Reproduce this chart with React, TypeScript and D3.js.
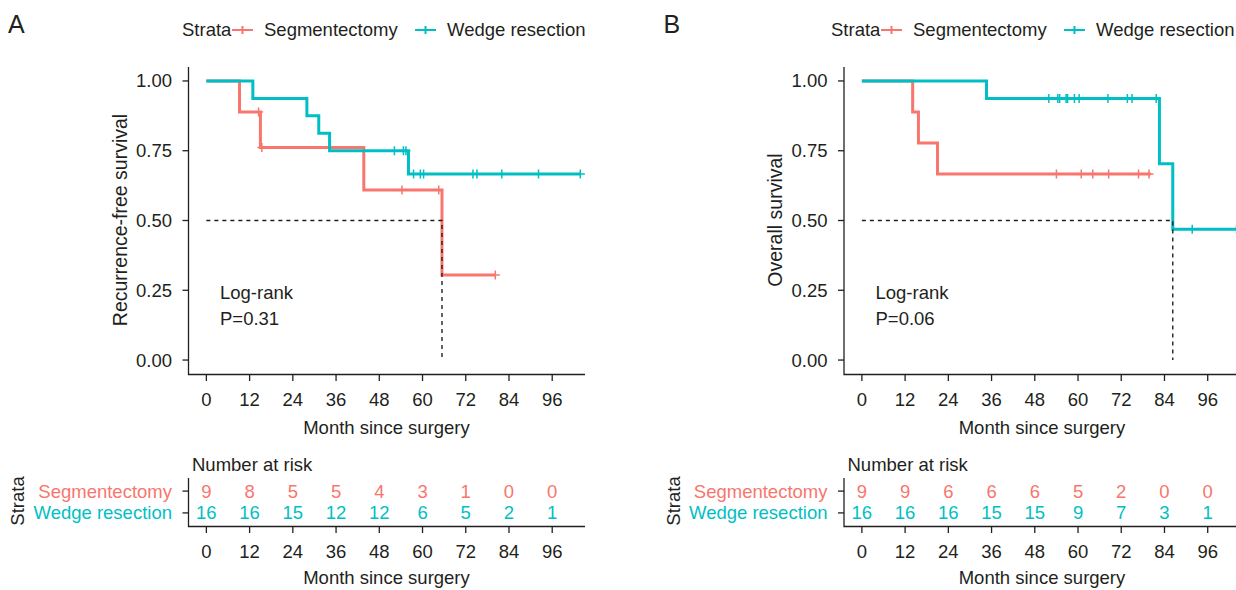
import * as d3 from "d3";

const RED = "#F8766D";
const TEAL = "#00BFC4";
const INK = "#231F20";
const FONT = "'Liberation Sans', Arial, Helvetica, sans-serif";

const strata = ["Segmentectomy", "Wedge resection"];
const monthTicks = [0, 12, 24, 36, 48, 60, 72, 84, 96];
const survTicks = [0, 0.25, 0.5, 0.75, 1];

// Panel A: recurrence-free survival. [month, survival] at each drop
const rfsSegSteps = [[0, 1], [9.2, 0.889], [15, 0.762], [43.7, 0.609], [65.4, 0.305]];
const rfsSegEnd = 80.2;
const rfsSegCensor = [14.5, 15.4, 54.3, 64.5, 80.2];
const rfsWedgeSteps = [[0, 1], [12.9, 0.9375], [27.9, 0.875], [31.2, 0.8125], [34.2, 0.75], [56.1, 0.667]];
const rfsWedgeEnd = 103.8;
const rfsWedgeCensor = [52.2, 54.7, 55.4, 57.5, 59.4, 60.3, 74, 75.1, 82, 92.2, 103.8];
const rfsMedian = 65.4;
const rfsRiskSeg = [9, 8, 5, 5, 4, 3, 1, 0, 0];
const rfsRiskWedge = [16, 16, 15, 12, 12, 6, 5, 2, 1];

// Panel B: overall survival
const osSegSteps = [[0, 1], [14.1, 0.889], [15.7, 0.778], [21, 0.667]];
const osSegEnd = 80.2;
const osSegCensor = [54, 60.9, 64.1, 68.5, 76.8, 79.7];
const osWedgeSteps = [[0, 1], [34.6, 0.9375], [82.6, 0.703], [86.3, 0.469]];
const osWedgeEnd = 104;
const osWedgeCensor = [51.9, 54.4, 54.9, 56.7, 57.1, 59, 60.3, 68.3, 73.7, 75, 81.7, 91.7, 104];
const osMedian = 86.3;
const osRiskSeg = [9, 9, 6, 6, 6, 5, 2, 0, 0];
const osRiskWedge = [16, 16, 16, 15, 15, 9, 7, 3, 1];

type Curve = { name: string; color: string; steps: number[][]; end: number; censor: number[] };

const FS = 18.5;

function survAt(steps: number[][], t: number) {
  const i = d3.bisector((d: number[]) => d[0]).right(steps, t) - 1;
  return steps[Math.max(0, i)][1];
}

function KMPanel({
  dx, tag, yTitle, pText, curves, median, risk, legendX,
}: {
  dx: number; tag: string; yTitle: string; pText: string; curves: Curve[];
  median: number; risk: number[][]; legendX: number;
}) {
  const x = d3.scaleLinear().domain([-5.1, 105.1]).range([188 + dx, 585 + dx]);
  const y = d3.scaleLinear().domain([-0.05, 1.05]).range([374, 67]);
  const rowY = d3.scalePoint<string>().domain(strata).range([478, 526]).padding(0.6);
  const line = d3
    .line<number[]>()
    .x((d) => x(d[0]))
    .y((d) => y(d[1]))
    .curve(d3.curveStepAfter);
  const axX = 188.5 + dx;

  return (
    <g fontFamily={FONT} fill={INK}>
      <text x={8 + dx} y={33} fontSize={25}>{tag}</text>

      {/* legend */}
      <g fontSize={FS}>
        <text x={legendX} y={30} dy="0.35em">Strata</text>
        {curves.map((c, i) => {
          const kx = legendX + (i === 0 ? 50 : 233);
          return (
            <g key={c.name}>
              <path d={`M${kx},30h21M${kx + 10.5},26v8`} stroke={c.color} strokeWidth={2} fill="none" />
              <text x={kx + 32} y={30} dy="0.35em">{c.name}</text>
            </g>
          );
        })}
      </g>

      {/* axes */}
      <path d={`M${axX},67V374.5H${585 + dx}`} stroke={INK} strokeWidth={1.3} fill="none" />
      {survTicks.map((t) => (
        <g key={t}>
          <line x1={axX - 6} x2={axX} y1={y(t)} y2={y(t)} stroke={INK} strokeWidth={1.3} />
          <text x={172 + dx} y={y(t)} dy="0.35em" textAnchor="end" fontSize={FS}>{t.toFixed(2)}</text>
        </g>
      ))}
      {monthTicks.map((t) => (
        <g key={t}>
          <line x1={x(t)} x2={x(t)} y1={374.5} y2={381} stroke={INK} strokeWidth={1.3} />
          <text x={x(t)} y={400} dy="0.35em" textAnchor="middle" fontSize={FS}>{t}</text>
        </g>
      ))}
      <text x={386.5 + dx} y={428} dy="0.35em" textAnchor="middle" fontSize={FS}>Month since surgery</text>
      <text transform={`translate(${120 + dx},220) rotate(-90)`} dy="0.35em" textAnchor="middle" fontSize={19.5}>{yTitle}</text>

      {/* curves */}
      {curves.map((c) => {
        const last = c.steps[c.steps.length - 1][1];
        return (
          <g key={c.name}>
            <path d={line([...c.steps, [c.end, last]]) ?? ""} stroke={c.color} strokeWidth={3} fill="none" />
            {c.censor.map((t, i) => {
              const cx = x(t);
              const cy = y(survAt(c.steps, t));
              return (
                <path key={i} d={`M${cx},${cy - 4.5}v9M${cx - 4.5},${cy}h9`} stroke={c.color} strokeWidth={1.5} fill="none" />
              );
            })}
          </g>
        );
      })}

      {/* median */}
      <path
        d={`M${x(0)},${y(0.5)}H${x(median)}V${y(0)}`}
        stroke={INK} strokeWidth={1.4} strokeDasharray="4,4" fill="none"
      />

      <text x={220 + dx} y={299} fontSize={FS}>Log-rank</text>
      <text x={220 + dx} y={325} fontSize={FS}>{pText}</text>

      {/* risk table */}
      <text x={192 + dx} y={465} dy="0.35em" fontSize={FS}>Number at risk</text>
      <text transform={`translate(${18 + dx},501) rotate(-90)`} dy="0.35em" textAnchor="middle" fontSize={FS}>Strata</text>
      <path d={`M${axX},478V526.5H${585 + dx}`} stroke={INK} strokeWidth={1.3} fill="none" />
      {strata.map((s, i) => (
        <g key={s}>
          <line x1={axX - 6} x2={axX} y1={rowY(s)} y2={rowY(s)} stroke={INK} strokeWidth={1.3} />
          <text x={172 + dx} y={rowY(s)} dy="0.35em" textAnchor="end" fontSize={FS} fill={curves[i].color}>{s}</text>
          {monthTicks.map((t, j) => (
            <text key={t} x={x(t)} y={rowY(s)} dy="0.35em" textAnchor="middle" fontSize={FS} fill={curves[i].color}>
              {risk[i][j]}
            </text>
          ))}
        </g>
      ))}
      {monthTicks.map((t) => (
        <g key={t}>
          <line x1={x(t)} x2={x(t)} y1={526.5} y2={533} stroke={INK} strokeWidth={1.3} />
          <text x={x(t)} y={552} dy="0.35em" textAnchor="middle" fontSize={FS}>{t}</text>
        </g>
      ))}
      <text x={386.5 + dx} y={578} dy="0.35em" textAnchor="middle" fontSize={FS}>Month since surgery</text>
    </g>
  );
}

export default function App() {
  const curvesA: Curve[] = [
    { name: strata[0], color: RED, steps: rfsSegSteps, end: rfsSegEnd, censor: rfsSegCensor },
    { name: strata[1], color: TEAL, steps: rfsWedgeSteps, end: rfsWedgeEnd, censor: rfsWedgeCensor },
  ];
  const curvesB: Curve[] = [
    { name: strata[0], color: RED, steps: osSegSteps, end: osSegEnd, censor: osSegCensor },
    { name: strata[1], color: TEAL, steps: osWedgeSteps, end: osWedgeEnd, censor: osWedgeCensor },
  ];
  return (
    <svg
      width={1236}
      height={590}
      style={{ position: "absolute", left: 0, top: 0, background: "#fff" }}
    >
      <KMPanel dx={0} tag="A" yTitle="Recurrence-free survival" pText="P=0.31" curves={curvesA}
        median={rfsMedian} risk={[rfsRiskSeg, rfsRiskWedge]} legendX={182} />
      <KMPanel dx={655.5} tag="B" yTitle="Overall survival" pText="P=0.06" curves={curvesB}
        median={osMedian} risk={[osRiskSeg, osRiskWedge]} legendX={831 - 655.5 + 655.5} />
    </svg>
  );
}
